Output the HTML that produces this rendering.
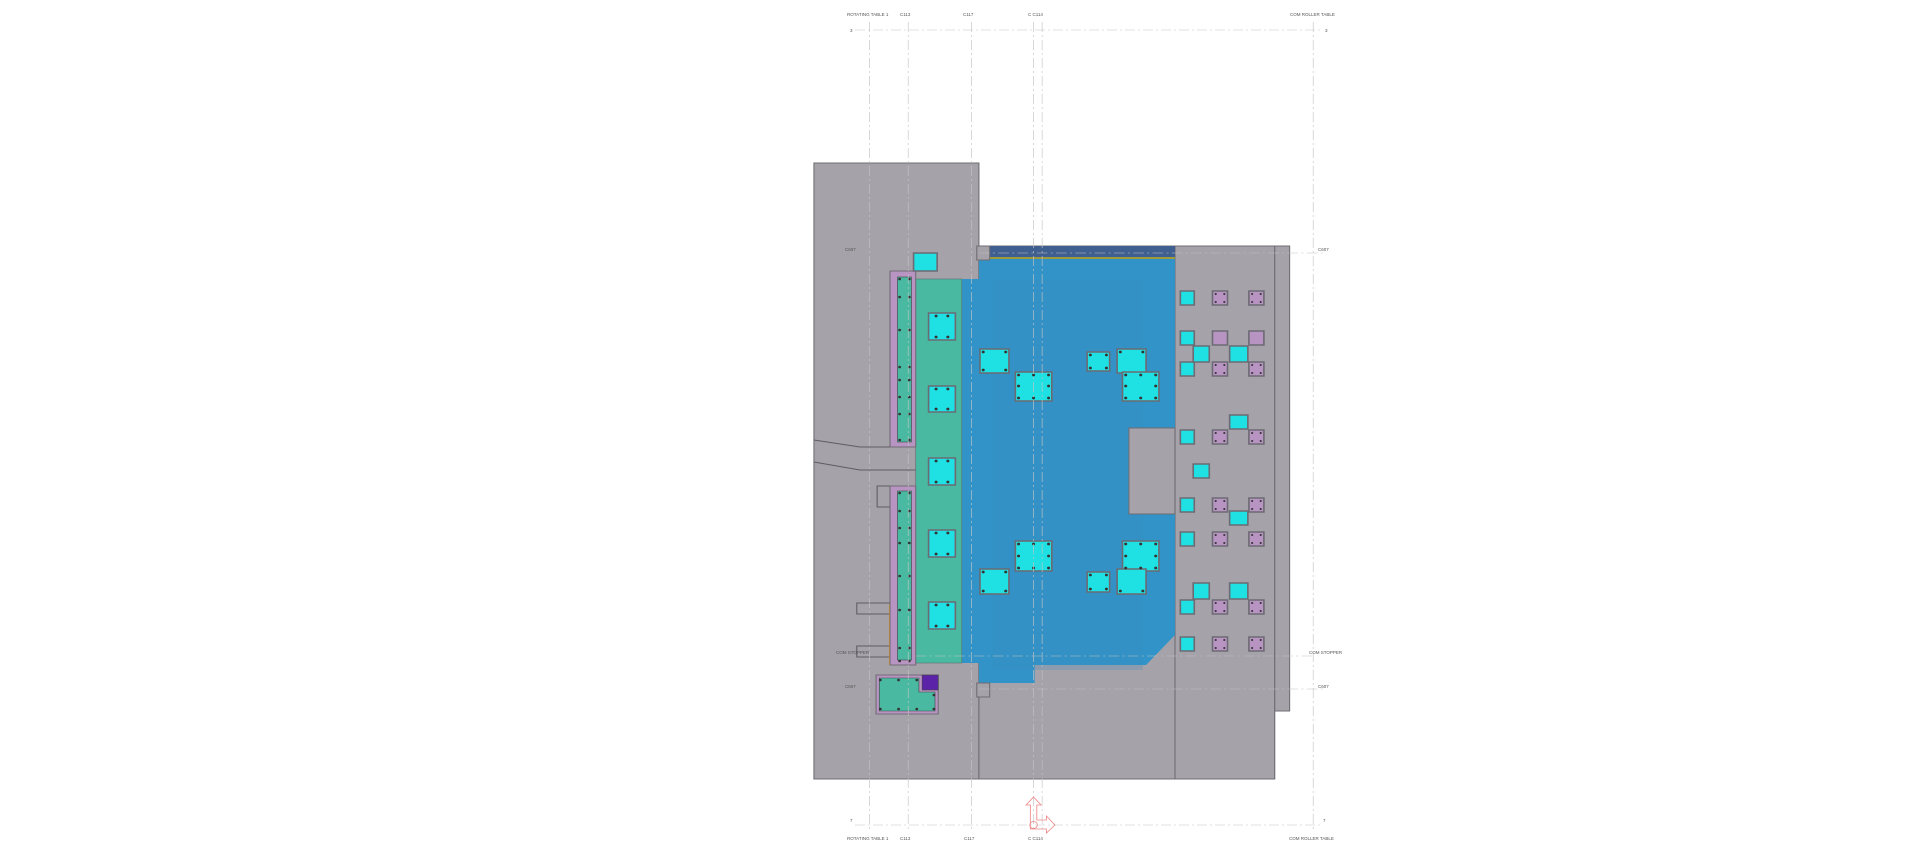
<!DOCTYPE html>
<html><head><meta charset="utf-8"><style>html,body{margin:0;padding:0;background:#fff}svg{display:block}</style></head><body>
<svg width="1920" height="852" viewBox="0 0 1920 852" xmlns="http://www.w3.org/2000/svg" font-family="Liberation Sans, sans-serif">
<g transform="translate(800,0) scale(1.0714,1) translate(-800,0)">
<g stroke="#6f6c72" stroke-width="1" fill="#a5a2a9">
<rect x="813" y="163" width="154" height="616"/>
<rect x="967" y="246" width="276" height="533"/>
<rect x="1243" y="246" width="14" height="465"/>
<rect x="1150" y="246" width="93" height="533"/>
</g>
<path d="M951 279 H967 V258 H1150 V635 L1123 665 H1019 V683 H967 V663 H951 Z" fill="#3193c7"/>
<rect x="980" y="280" width="140" height="390" fill="#3a8cc0" opacity="0.25"/>
<rect x="967" y="246" width="183" height="11" fill="#3f5f90"/>
<rect x="967" y="257" width="183" height="2" fill="#a09a3a"/>
<rect x="1107" y="428" width="43" height="86" fill="#a5a2a9" stroke="#6f6c72"/>
<rect x="965" y="246" width="12" height="14" fill="#a5a2a9" stroke="#6f6c72"/>
<rect x="965" y="683" width="12" height="14" fill="#a5a2a9" stroke="#6f6c72"/>
<rect x="908" y="279" width="43" height="384" fill="#49b9a1" stroke="#5a7070" stroke-width="0.6"/>
<g fill="none" stroke="#5f5c62" stroke-width="1">
<polyline points="813,440 856,447 908,447"/>
<polyline points="813,462 856,470 908,470"/>
<rect x="872" y="486" width="17" height="21"/>
<rect x="853" y="603" width="31" height="11"/>
<rect x="853" y="646" width="31" height="11"/>
</g>
<rect x="883" y="604" width="3" height="61" fill="#e0a020"/>
<g fill="#b894c3" stroke="#6f6c72" stroke-width="1">
<rect x="884" y="271" width="24" height="176"/>
<rect x="884" y="486" width="24" height="179"/>
<path d="M871 675 H929 V714 H871 Z"/>
</g>
<g fill="#49b9a1" stroke="#444" stroke-width="0.6">
<rect x="891" y="277" width="13" height="165"/>
<rect x="891" y="491" width="13" height="169"/>
<path d="M874 678 H911 V692 H926 V711 H874 Z"/>
</g>
<rect x="914" y="675" width="15" height="15" fill="#5b24a8" stroke="#444" stroke-width="0.6"/>
<g fill="#333">
<circle cx="893" cy="279" r="1.3"/><circle cx="902" cy="279" r="1.3"/><circle cx="893" cy="297" r="1.3"/><circle cx="902" cy="297" r="1.3"/>
<circle cx="893" cy="330" r="1.3"/><circle cx="902" cy="330" r="1.3"/><circle cx="893" cy="367" r="1.3"/><circle cx="902" cy="367" r="1.3"/>
<circle cx="893" cy="380" r="1.3"/><circle cx="902" cy="380" r="1.3"/><circle cx="893" cy="397" r="1.3"/><circle cx="902" cy="397" r="1.3"/>
<circle cx="893" cy="414" r="1.3"/><circle cx="902" cy="414" r="1.3"/><circle cx="893" cy="440" r="1.3"/><circle cx="902" cy="440" r="1.3"/>
<circle cx="893" cy="493" r="1.3"/><circle cx="902" cy="493" r="1.3"/><circle cx="893" cy="511" r="1.3"/><circle cx="902" cy="511" r="1.3"/>
<circle cx="893" cy="528" r="1.3"/><circle cx="902" cy="528" r="1.3"/><circle cx="893" cy="543" r="1.3"/><circle cx="902" cy="543" r="1.3"/>
<circle cx="893" cy="576" r="1.3"/><circle cx="902" cy="576" r="1.3"/><circle cx="893" cy="610" r="1.3"/><circle cx="902" cy="610" r="1.3"/>
<circle cx="893" cy="648" r="1.3"/><circle cx="902" cy="648" r="1.3"/><circle cx="893" cy="661" r="1.3"/><circle cx="902" cy="661" r="1.3"/>
<circle cx="875" cy="680" r="1.3"/><circle cx="892" cy="680" r="1.3"/><circle cx="909" cy="680" r="1.3"/><circle cx="875" cy="709" r="1.3"/><circle cx="892" cy="709" r="1.3"/><circle cx="909" cy="709" r="1.3"/><circle cx="925" cy="709" r="1.3"/><circle cx="925" cy="695" r="1.3"/>
</g>
<g fill="#1fe0e3" stroke="#6c6a72" stroke-width="1.5">
<rect x="906" y="253" width="22" height="18"/>
<rect x="920" y="313" width="25" height="27"/>
<rect x="920" y="386" width="25" height="26"/>
<rect x="920" y="458" width="25" height="27"/>
<rect x="920" y="530" width="25" height="27"/>
<rect x="920" y="602" width="25" height="27"/>
<rect x="968" y="349" width="27" height="24"/>
<rect x="1001" y="372" width="34" height="29"/>
<rect x="1068" y="352" width="21" height="19"/>
<rect x="1096" y="349" width="27" height="24"/>
<rect x="1101" y="372" width="34" height="29"/>
<rect x="1001" y="541" width="34" height="30"/>
<rect x="1101" y="541" width="34" height="30"/>
<rect x="968" y="569" width="27" height="25"/>
<rect x="1068" y="572" width="21" height="20"/>
<rect x="1096" y="569" width="27" height="25"/>
</g>
<g fill="#333">
<circle cx="927" cy="316" r="1.4"/><circle cx="938" cy="316" r="1.4"/><circle cx="927" cy="337" r="1.4"/><circle cx="938" cy="337" r="1.4"/>
<circle cx="927" cy="389" r="1.4"/><circle cx="938" cy="389" r="1.4"/><circle cx="927" cy="409" r="1.4"/><circle cx="938" cy="409" r="1.4"/>
<circle cx="927" cy="461" r="1.4"/><circle cx="938" cy="461" r="1.4"/><circle cx="927" cy="482" r="1.4"/><circle cx="938" cy="482" r="1.4"/>
<circle cx="927" cy="533" r="1.4"/><circle cx="938" cy="533" r="1.4"/><circle cx="927" cy="554" r="1.4"/><circle cx="938" cy="554" r="1.4"/>
<circle cx="927" cy="605" r="1.4"/><circle cx="938" cy="605" r="1.4"/><circle cx="927" cy="626" r="1.4"/><circle cx="938" cy="626" r="1.4"/>
<circle cx="971" cy="352" r="1.4"/><circle cx="992" cy="352" r="1.4"/><circle cx="971" cy="370" r="1.4"/><circle cx="992" cy="370" r="1.4"/>
<circle cx="1004" cy="375" r="1.4"/><circle cx="1018" cy="375" r="1.4"/><circle cx="1032" cy="375" r="1.4"/><circle cx="1004" cy="398" r="1.4"/><circle cx="1018" cy="398" r="1.4"/><circle cx="1032" cy="398" r="1.4"/><circle cx="1004" cy="386" r="1.4"/><circle cx="1032" cy="386" r="1.4"/>
<circle cx="1104" cy="375" r="1.4"/><circle cx="1118" cy="375" r="1.4"/><circle cx="1132" cy="375" r="1.4"/><circle cx="1104" cy="398" r="1.4"/><circle cx="1118" cy="398" r="1.4"/><circle cx="1132" cy="398" r="1.4"/><circle cx="1104" cy="386" r="1.4"/><circle cx="1132" cy="386" r="1.4"/>
<circle cx="1004" cy="544" r="1.4"/><circle cx="1018" cy="544" r="1.4"/><circle cx="1032" cy="544" r="1.4"/><circle cx="1004" cy="568" r="1.4"/><circle cx="1018" cy="568" r="1.4"/><circle cx="1032" cy="568" r="1.4"/><circle cx="1004" cy="556" r="1.4"/><circle cx="1032" cy="556" r="1.4"/>
<circle cx="1104" cy="544" r="1.4"/><circle cx="1118" cy="544" r="1.4"/><circle cx="1132" cy="544" r="1.4"/><circle cx="1104" cy="568" r="1.4"/><circle cx="1118" cy="568" r="1.4"/><circle cx="1132" cy="568" r="1.4"/><circle cx="1104" cy="556" r="1.4"/><circle cx="1132" cy="556" r="1.4"/>
<circle cx="1071" cy="355" r="1.4"/><circle cx="1086" cy="355" r="1.4"/><circle cx="1071" cy="368" r="1.4"/><circle cx="1086" cy="368" r="1.4"/>
<circle cx="1099" cy="352" r="1.4"/><circle cx="1120" cy="352" r="1.4"/>
<circle cx="971" cy="591" r="1.4"/><circle cx="992" cy="591" r="1.4"/><circle cx="971" cy="572" r="1.4"/><circle cx="992" cy="572" r="1.4"/>
<circle cx="1071" cy="575" r="1.4"/><circle cx="1086" cy="575" r="1.4"/><circle cx="1071" cy="589" r="1.4"/><circle cx="1086" cy="589" r="1.4"/>
<circle cx="1099" cy="591" r="1.4"/><circle cx="1120" cy="591" r="1.4"/>
</g>
<g stroke="#6c6a72" stroke-width="1.5">
<g fill="#1fe0e3">
<rect x="1155" y="291" width="13" height="14"/><rect x="1155" y="331" width="13" height="14"/><rect x="1155" y="362" width="13" height="14"/>
<rect x="1167" y="346" width="15" height="16"/><rect x="1201" y="346" width="17" height="16"/>
<rect x="1201" y="415" width="17" height="14"/><rect x="1155" y="430" width="13" height="14"/><rect x="1167" y="464" width="15" height="14"/>
<rect x="1155" y="498" width="13" height="14"/><rect x="1201" y="511" width="17" height="14"/><rect x="1155" y="532" width="13" height="14"/>
<rect x="1167" y="583" width="15" height="16"/><rect x="1201" y="583" width="17" height="16"/>
<rect x="1155" y="600" width="13" height="14"/><rect x="1155" y="637" width="13" height="14"/>
</g>
<g fill="#b894c3">
<rect x="1185" y="291" width="14" height="14"/><rect x="1219" y="291" width="14" height="14"/>
<rect x="1185" y="331" width="14" height="14"/><rect x="1219" y="331" width="14" height="14"/>
<rect x="1185" y="362" width="14" height="14"/><rect x="1219" y="362" width="14" height="14"/>
<rect x="1185" y="430" width="14" height="14"/><rect x="1219" y="430" width="14" height="14"/>
<rect x="1185" y="498" width="14" height="14"/><rect x="1219" y="498" width="14" height="14"/>
<rect x="1185" y="532" width="14" height="14"/><rect x="1219" y="532" width="14" height="14"/>
<rect x="1185" y="600" width="14" height="14"/><rect x="1219" y="600" width="14" height="14"/>
<rect x="1185" y="637" width="14" height="14"/><rect x="1219" y="637" width="14" height="14"/>
</g>
</g>
<g fill="#333">
<circle cx="1188" cy="294" r="1"/><circle cx="1196" cy="294" r="1"/><circle cx="1188" cy="302" r="1"/><circle cx="1196" cy="302" r="1"/>
<circle cx="1222" cy="294" r="1"/><circle cx="1230" cy="294" r="1"/><circle cx="1222" cy="302" r="1"/><circle cx="1230" cy="302" r="1"/>
<circle cx="1188" cy="365" r="1"/><circle cx="1196" cy="365" r="1"/><circle cx="1188" cy="373" r="1"/><circle cx="1196" cy="373" r="1"/>
<circle cx="1222" cy="365" r="1"/><circle cx="1230" cy="365" r="1"/><circle cx="1222" cy="373" r="1"/><circle cx="1230" cy="373" r="1"/>
<circle cx="1188" cy="433" r="1"/><circle cx="1196" cy="433" r="1"/><circle cx="1188" cy="441" r="1"/><circle cx="1196" cy="441" r="1"/>
<circle cx="1222" cy="433" r="1"/><circle cx="1230" cy="433" r="1"/><circle cx="1222" cy="441" r="1"/><circle cx="1230" cy="441" r="1"/>
<circle cx="1188" cy="501" r="1"/><circle cx="1196" cy="501" r="1"/><circle cx="1188" cy="509" r="1"/><circle cx="1196" cy="509" r="1"/>
<circle cx="1222" cy="501" r="1"/><circle cx="1230" cy="501" r="1"/><circle cx="1222" cy="509" r="1"/><circle cx="1230" cy="509" r="1"/>
<circle cx="1188" cy="535" r="1"/><circle cx="1196" cy="535" r="1"/><circle cx="1188" cy="543" r="1"/><circle cx="1196" cy="543" r="1"/>
<circle cx="1222" cy="535" r="1"/><circle cx="1230" cy="535" r="1"/><circle cx="1222" cy="543" r="1"/><circle cx="1230" cy="543" r="1"/>
<circle cx="1188" cy="603" r="1"/><circle cx="1196" cy="603" r="1"/><circle cx="1188" cy="611" r="1"/><circle cx="1196" cy="611" r="1"/>
<circle cx="1222" cy="603" r="1"/><circle cx="1230" cy="603" r="1"/><circle cx="1222" cy="611" r="1"/><circle cx="1230" cy="611" r="1"/>
<circle cx="1188" cy="640" r="1"/><circle cx="1196" cy="640" r="1"/><circle cx="1188" cy="648" r="1"/><circle cx="1196" cy="648" r="1"/>
<circle cx="1222" cy="640" r="1"/><circle cx="1230" cy="640" r="1"/><circle cx="1222" cy="648" r="1"/><circle cx="1230" cy="648" r="1"/>
</g>
<g stroke="#c4c4c4" stroke-width="0.6" stroke-dasharray="10,3,2,3" fill="none">
<line x1="865" y1="22" x2="865" y2="832"/>
<line x1="901" y1="22" x2="901" y2="832"/>
<line x1="960" y1="22" x2="960" y2="832"/>
<line x1="1018" y1="22" x2="1018" y2="832"/>
<line x1="1026" y1="22" x2="1026" y2="832"/>
<line x1="1279" y1="22" x2="1279" y2="832"/>
<line x1="967" y1="253" x2="1290" y2="253"/>
<line x1="908" y1="656" x2="1280" y2="656"/>
<line x1="967" y1="689" x2="1290" y2="689"/>
</g>
<g stroke="#e88" fill="none" stroke-width="0.8">
<path d="M1015 823 V805 H1011 L1018 797 L1025 805 H1021 V820 H1030 V816 L1038 825 L1030 833 V829 H1015 Z"/>
<circle cx="1018" cy="825" r="3.5"/>
</g>
</g>
<g stroke="#c4c4c4" stroke-width="0.6" stroke-dasharray="10,3,2,3" fill="none">
<line x1="855" y1="30" x2="1322" y2="30"/>
<line x1="855" y1="825" x2="1322" y2="825"/>
</g>
<g font-size="4.5" fill="#555">
<text x="847" y="16">ROTATING TABLE 1</text><text x="900" y="16">C113</text><text x="963" y="16">C117</text><text x="1028" y="16">C  C114</text><text x="1290" y="16">COM ROLLER TABLE</text>
<text x="850" y="32">3</text><text x="1325" y="32">3</text>
<text x="847" y="840">ROTATING TABLE 1</text><text x="900" y="840">C113</text><text x="964" y="840">C117</text><text x="1028" y="840">C C114</text><text x="1289" y="840">COM ROLLER TABLE</text>
<text x="850" y="822">7</text><text x="1323" y="822">7</text>
<text x="845" y="251">C607</text><text x="1318" y="251">C607</text>
<text x="836" y="654">COM STOPPER</text><text x="1309" y="654">COM STOPPER</text>
<text x="845" y="688">C607</text><text x="1318" y="688">C607</text>
</g>
</svg>
</body></html>
